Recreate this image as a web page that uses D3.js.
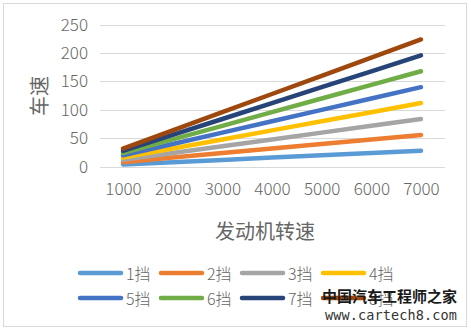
<!DOCTYPE html>
<html><head><meta charset="utf-8">
<script src="https://cdn.jsdelivr.net/npm/d3@7"></script>
<style>body{margin:0;background:#fff;}svg{display:block;}</style>
</head><body>
<svg id="c" width="471" height="332"></svg>
<script>
const rpm = [1000, 2000, 3000, 4000, 5000, 6000, 7000];
const seriesNames = ["1挡","2挡","3挡","4挡","5挡","6挡","7挡","8挡"];
const g1 = [4, 8, 12, 16, 20, 24, 28];
const g2 = [8, 16, 24, 32, 40, 48, 56];
const g3 = [12, 24, 36, 48, 60, 72, 84];
const g4 = [16, 32, 48, 64, 80, 96, 112];
const g5 = [20, 40, 60, 80, 100, 120, 140];
const g6 = [24, 48, 72, 96, 120, 144, 168];
const g7 = [28, 56, 84, 112, 140, 168, 196];
const g8 = [32, 64, 96, 128, 160, 192, 224];
const yTicks = [0, 50, 100, 150, 200, 250];
const colors = ["#5B9BD5","#ED7D31","#A5A5A5","#FFC000","#4472C4","#70AD47","#264478","#9E480E"];
const seriesVals = [g1,g2,g3,g4,g5,g6,g7,g8];

const svg = d3.select("#c");
const font = "'Noto Sans CJK SC','Noto Sans',sans-serif";
svg.append("rect").attr("x",3.5).attr("y",3.5).attr("width",463).attr("height",323)
  .attr("fill","#fff").attr("stroke","#d9d9d9").attr("stroke-width",1);

const x = d3.scalePoint().domain(rpm).range([123, 421]);
const y = d3.scaleLinear().domain([0, 250]).range([166.7, 24.7]);

// grid
const grid = svg.append("g");
grid.selectAll("line").data(yTicks).join("line")
  .attr("x1",100).attr("x2",445)
  .attr("y1",d=>Math.round(y(d))+0.5).attr("y2",d=>Math.round(y(d))+0.5)
  .attr("stroke","#d9d9d9").attr("stroke-width",1);

// y axis
const yAx = svg.append("g").attr("transform","translate(88,0)")
  .call(d3.axisLeft(y).tickValues(yTicks).tickSize(0).tickPadding(0));
yAx.select(".domain").remove();
yAx.selectAll("text").attr("font-family",font).attr("font-size",17).attr("fill","#666").attr("font-weight",300);

// x axis
const xAx = svg.append("g").attr("transform","translate(0,183)")
  .call(d3.axisBottom(x).tickSize(0).tickPadding(0));
xAx.select(".domain").remove();
xAx.selectAll("text").attr("font-family",font).attr("font-size",17).attr("fill","#666").attr("font-weight",300);

// titles
svg.append("text").attr("x",265).attr("y",230).attr("text-anchor","middle").attr("dominant-baseline","central")
  .attr("font-family",font).attr("font-size",20).attr("fill","#666").text("发动机转速");
svg.append("text").attr("transform","translate(38,96) rotate(-90)").attr("text-anchor","middle").attr("dominant-baseline","central")
  .attr("font-family",font).attr("font-size",20).attr("fill","#666").text("车速");

// lines
const line = d3.line().x((d,i)=>x(rpm[i])).y(d=>y(d));
svg.append("g").selectAll("path").data(seriesVals).join("path")
  .attr("d",line).attr("fill","none").attr("stroke",(d,i)=>colors[i])
  .attr("stroke-width",4.5).attr("stroke-linecap","round");

// legend
const leg = svg.append("g");
seriesNames.forEach((n,i)=>{
  const col = i%4, row = Math.floor(i/4);
  const lx = 80 + col*81, ly = 273 + row*25;
  leg.append("line").attr("x1",lx).attr("x2",lx+41).attr("y1",ly).attr("y2",ly)
    .attr("stroke",colors[i]).attr("stroke-width",4.5).attr("stroke-linecap","round");
  leg.append("text").attr("x",lx+46).attr("y",ly).attr("dominant-baseline","central")
    .attr("font-family",font).attr("font-size",16).attr("fill","#666").attr("font-weight",300).text(n);
});

// watermark
svg.append("text").attr("x",322).attr("y",295).attr("dominant-baseline","central")
  .attr("font-family","'Noto Sans CJK SC',sans-serif").attr("font-weight",700).attr("font-size",15)
  .attr("fill","#1a1a1a").attr("textLength",135).text("中国汽车工程师之家");
svg.append("text").attr("x",325).attr("y",315).attr("dominant-baseline","central")
  .attr("font-family","'DejaVu Sans Mono',monospace").attr("font-size",13.5)
  .attr("fill","#333").attr("textLength",132).text("www.cartech8.com");
</script>
</body></html>
